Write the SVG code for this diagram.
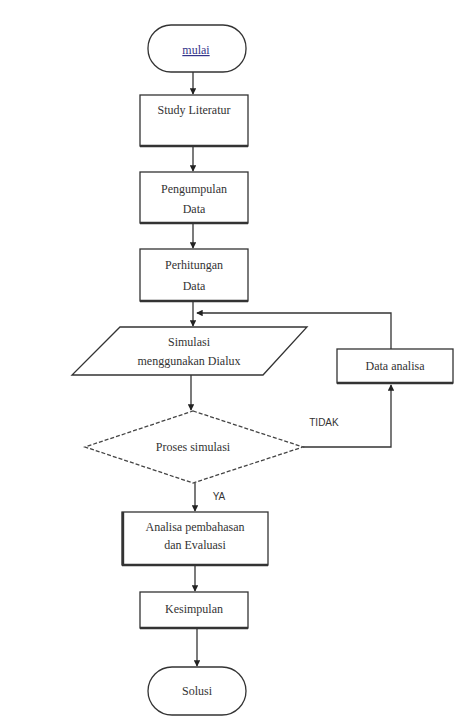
<svg xmlns="http://www.w3.org/2000/svg" width="458" height="717" viewBox="0 0 458 717">
<style>
.shape{fill:#fff;stroke:#333;stroke-width:1.3}
.shadow{stroke:#333;stroke-width:2.4;fill:none}
.dash{fill:#fff;stroke:#444;stroke-width:1.3;stroke-dasharray:4 2}
.conn{stroke:#333;stroke-width:1.3;fill:none}
.t{font-family:"Liberation Serif","Times New Roman",serif;font-size:12px;fill:#333;text-anchor:middle}
.s{font-family:"Liberation Sans",Arial,sans-serif;font-size:10px;fill:#333;text-anchor:middle}
</style>
<defs>
<marker id="ah" viewBox="0 0 8 8" refX="7" refY="4" markerWidth="5" markerHeight="5" orient="auto">
<path d="M0,0 L8,4 L0,8 z" fill="#222"/>
</marker>
</defs>
<rect width="458" height="717" fill="#fff"/>
<g id="connectors">
<line class="conn" x1="193" y1="72" x2="193" y2="94" marker-end="url(#ah)"/>
<line class="conn" x1="193" y1="146" x2="193" y2="171" marker-end="url(#ah)"/>
<line class="conn" x1="193" y1="223" x2="193" y2="248" marker-end="url(#ah)"/>
<line class="conn" x1="193" y1="301" x2="193" y2="326" marker-end="url(#ah)"/>
<line class="conn" x1="191" y1="375" x2="191" y2="410" marker-end="url(#ah)"/>
<polyline class="conn" points="303,447 391,447 391,385" marker-end="url(#ah)"/>
<polyline class="conn" points="391,349 391,313 197,313" marker-end="url(#ah)"/>
<line class="conn" x1="195" y1="483" x2="195" y2="511" marker-end="url(#ah)"/>
<line class="conn" x1="195" y1="566" x2="195" y2="591" marker-end="url(#ah)"/>
<line class="conn" x1="197" y1="628" x2="197" y2="666" marker-end="url(#ah)"/>
<text class="s" x="324" y="426">TIDAK</text>
<text class="s" x="219" y="500">YA</text>
</g>
<g id="mulai">
<rect class="shape" x="148" y="25" width="98" height="47" rx="23"/>
<text class="t" x="196" y="54" fill="#33338a" style="fill:#33338a;text-decoration:underline">mulai</text>
</g>
<g id="study">
<rect class="shape" x="140" y="95" width="108" height="51"/>
<line class="shadow" x1="140" y1="146" x2="248" y2="146"/>
<text class="t" x="194" y="114">Study Literatur</text>
</g>
<g id="pengumpulan">
<rect class="shape" x="140" y="172" width="108" height="51"/>
<line class="shadow" x1="140" y1="223" x2="248" y2="223"/>
<text class="t" x="194" y="193">Pengumpulan</text>
<text class="t" x="194" y="213">Data</text>
</g>
<g id="perhitungan">
<rect class="shape" x="140" y="249" width="108" height="52"/>
<line class="shadow" x1="140" y1="301" x2="248" y2="301"/>
<text class="t" x="194" y="269">Perhitungan</text>
<text class="t" x="194" y="290">Data</text>
</g>
<g id="simulasi">
<polygon class="shape" points="120,327 307,327 263,375 72,375"/>
<text class="t" x="189" y="346">Simulasi</text>
<text class="t" x="189" y="365">menggunakan Dialux</text>
</g>
<g id="proses">
<polygon class="dash" points="193,411 303,447 193,483 85,447"/>
<text class="t" x="193" y="451">Proses simulasi</text>
</g>
<g id="data-analisa">
<rect class="shape" x="337" y="349" width="116" height="34"/>
<line class="shadow" x1="337" y1="383" x2="453" y2="383"/>
<text class="t" x="395" y="370">Data analisa</text>
</g>
<g id="analisa">
<rect class="shape" x="122" y="512" width="146" height="53"/>
<line class="shadow" x1="122" y1="565" x2="268" y2="565"/>
<line class="shadow" x1="123" y1="512" x2="123" y2="565"/>
<text class="t" x="195" y="531">Analisa pembahasan</text>
<text class="t" x="195" y="549">dan Evaluasi</text>
</g>
<g id="kesimpulan">
<rect class="shape" x="140" y="592" width="108" height="36"/>
<line class="shadow" x1="140" y1="628" x2="248" y2="628"/>
<text class="t" x="194" y="613">Kesimpulan</text>
</g>
<g id="solusi">
<rect class="shape" x="148" y="667" width="98" height="48" rx="24"/>
<text class="t" x="197" y="695">Solusi</text>
</g>
</svg>
